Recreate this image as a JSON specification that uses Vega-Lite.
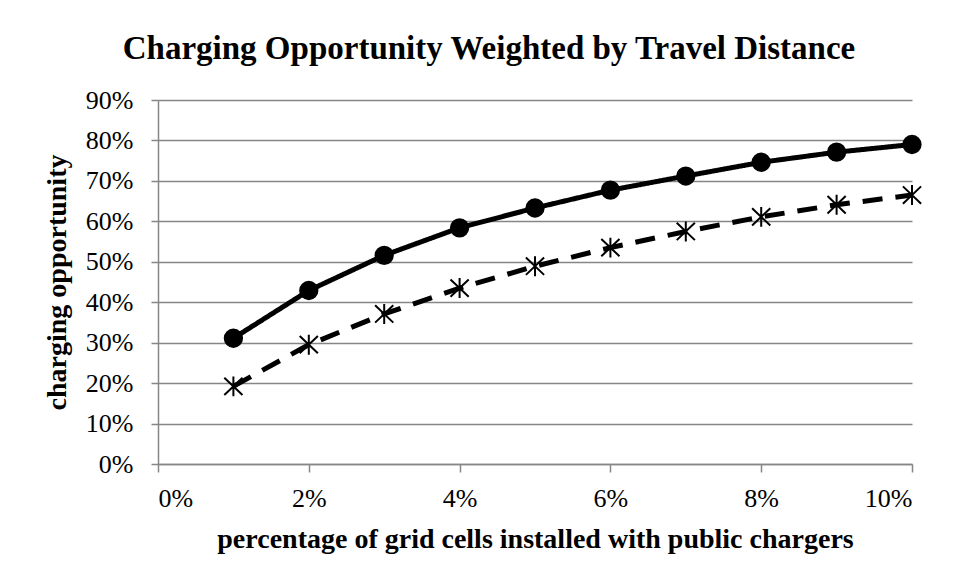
{
  "$schema": "https://vega.github.io/schema/vega-lite/v6.json",
  "width": 754,
  "height": 364,
  "autosize": {"type": "none"},
  "padding": {"left": 158, "top": 100, "right": 44, "bottom": 117},
  "background": "white",
  "title": {
    "text": "Charging Opportunity Weighted by Travel Distance",
    "font": "Liberation Serif",
    "fontSize": 33,
    "fontWeight": "bold",
    "color": "#000000",
    "anchor": "middle",
    "frame": "group",
    "dx": -46,
    "dy": 35,
    "baseline": "alphabetic",
    "offset": 30
  },
  "data": {
    "values": [
      {"share": 0.01, "opportunity": 0.311, "series": "A"},
      {"share": 0.02, "opportunity": 0.429, "series": "A"},
      {"share": 0.03, "opportunity": 0.516, "series": "A"},
      {"share": 0.04, "opportunity": 0.584, "series": "A"},
      {"share": 0.05, "opportunity": 0.633, "series": "A"},
      {"share": 0.06, "opportunity": 0.677, "series": "A"},
      {"share": 0.07, "opportunity": 0.712, "series": "A"},
      {"share": 0.08, "opportunity": 0.746, "series": "A"},
      {"share": 0.09, "opportunity": 0.771, "series": "A"},
      {"share": 0.10, "opportunity": 0.790, "series": "A"},
      {"share": 0.01, "opportunity": 0.192, "series": "B"},
      {"share": 0.02, "opportunity": 0.295, "series": "B"},
      {"share": 0.03, "opportunity": 0.371, "series": "B"},
      {"share": 0.04, "opportunity": 0.435, "series": "B"},
      {"share": 0.05, "opportunity": 0.489, "series": "B"},
      {"share": 0.06, "opportunity": 0.535, "series": "B"},
      {"share": 0.07, "opportunity": 0.575, "series": "B"},
      {"share": 0.08, "opportunity": 0.611, "series": "B"},
      {"share": 0.09, "opportunity": 0.641, "series": "B"},
      {"share": 0.10, "opportunity": 0.665, "series": "B"}
    ]
  },
  "encoding": {
    "x": {
      "field": "share",
      "type": "quantitative",
      "scale": {"domain": [0, 0.1], "nice": false, "zero": true},
      "axis": {
        "title": "percentage of grid cells installed with public chargers",
        "values": [0, 0.02, 0.04, 0.06, 0.08, 0.1],
        "format": ".0%",
        "grid": false,
        "tickSize": 8,
        "labelPadding": 13,
        "titlePadding": 14
      }
    },
    "y": {
      "field": "opportunity",
      "type": "quantitative",
      "scale": {"domain": [0, 0.9], "nice": false},
      "axis": {
        "title": "charging opportunity",
        "values": [0, 0.1, 0.2, 0.3, 0.4, 0.5, 0.6, 0.7, 0.8, 0.9],
        "format": ".0%",
        "grid": true,
        "tickSize": 7,
        "labelPadding": 18,
        "titlePadding": 14
      }
    }
  },
  "layer": [
    {
      "mark": {"type": "line", "color": "#000000", "strokeWidth": 5},
      "encoding": {
        "detail": {"field": "series", "type": "nominal"},
        "strokeDash": {
          "field": "series",
          "type": "nominal",
          "scale": {"domain": ["A", "B"], "range": [[1, 0], [20, 13]]},
          "legend": null
        }
      }
    },
    {
      "mark": {"type": "point", "filled": true, "color": "#000000", "stroke": "#000000", "strokeWidth": 2, "size": 300, "opacity": 1},
      "encoding": {
        "shape": {
          "field": "series",
          "type": "nominal",
          "scale": {"domain": ["A", "B"], "range": ["circle", "M0,-1.15L0,1.15M-1.05,-1L1.05,1M-1.05,1L1.05,-1"]},
          "legend": null
        }
      }
    }
  ],
  "config": {
    "view": {"stroke": null},
    "axis": {
      "labelFont": "Liberation Serif",
      "labelFontSize": 26,
      "labelColor": "#000000",
      "titleFont": "Liberation Serif",
      "titleFontSize": 28,
      "titleFontWeight": "bold",
      "titleColor": "#000000",
      "domainColor": "#868686",
      "domainWidth": 1.5,
      "tickColor": "#868686",
      "tickWidth": 1.5,
      "gridColor": "#868686",
      "gridWidth": 1.5,
      "gridOpacity": 1
    }
  }
}
